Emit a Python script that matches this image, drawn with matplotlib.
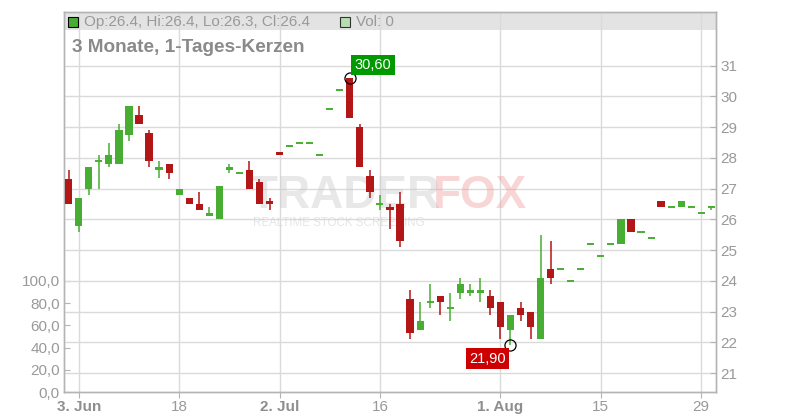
import matplotlib
matplotlib.use('Agg')
import matplotlib.pyplot as plt
from matplotlib.patches import Rectangle

plt.rcParams['font.family'] = ['Liberation Sans', 'DejaVu Sans']

# daily candles (one per trading day with trades)
opens = [27.3, 25.8, 27.0, 27.9, 27.8, 27.8, 28.75, 29.4, 28.8, 27.6,
         27.8, 26.8, 26.7, 26.5, 26.1, 26.0, 27.6, 27.5, 27.6, 27.2,
         26.6, 28.2, 28.4, 28.5, 28.5, 28.1, 29.6, 30.2, 30.6, 29.0,
         27.4, 26.5, 26.4, 26.5, 23.4, 22.4, 23.3, 23.5, 23.1, 23.6,
         23.6, 23.6, 23.5, 23.3, 22.4, 23.1, 23.0, 22.1, 24.4, 24.4,
         24.0, 24.4, 25.2, 24.8, 25.2, 25.2, 26.0, 25.6, 25.4, 26.6,
         26.4, 26.4, 26.4, 26.2, 26.4]
highs = [27.6, 26.7, 27.7, 28.1, 28.5, 29.1, 29.7, 29.7, 28.9, 27.9,
         27.8, 27.0, 26.7, 26.9, 26.4, 27.1, 27.8, 27.5, 27.9, 27.3,
         26.7, 28.2, 28.4, 28.5, 28.5, 28.1, 29.6, 30.2, 30.6, 29.1,
         27.6, 26.8, 26.5, 26.9, 23.7, 23.3, 23.9, 23.5, 23.6, 24.1,
         23.9, 24.1, 23.7, 23.3, 22.9, 23.3, 23.0, 25.5, 25.3, 24.4,
         24.0, 24.4, 25.2, 24.8, 25.2, 26.0, 26.0, 25.6, 25.4, 26.6,
         26.4, 26.6, 26.4, 26.2, 26.4]
lows = [26.5, 25.6, 26.8, 27.0, 27.7, 27.8, 28.55, 29.1, 27.7, 27.35,
        27.3, 26.8, 26.5, 26.3, 26.1, 26.0, 27.5, 27.5, 27.0, 26.5,
        26.3, 28.1, 28.4, 28.5, 28.5, 28.1, 29.6, 30.2, 29.3, 27.7,
        26.7, 26.3, 25.7, 25.1, 22.1, 22.4, 23.1, 22.9, 22.7, 23.4,
        23.5, 23.3, 22.9, 22.1, 21.9, 22.7, 22.1, 22.1, 23.9, 24.4,
        24.0, 24.4, 25.2, 24.8, 25.2, 25.2, 25.6, 25.6, 25.4, 26.4,
        26.4, 26.4, 26.4, 26.2, 26.3]
closes = [26.5, 26.7, 27.7, 27.9, 28.1, 28.9, 29.7, 29.1, 27.9, 27.7,
          27.5, 27.0, 26.5, 26.3, 26.2, 27.1, 27.7, 27.5, 27.0, 26.5,
          26.5, 28.1, 28.4, 28.5, 28.5, 28.1, 29.6, 30.2, 29.3, 27.7,
          26.9, 26.5, 26.3, 25.3, 22.3, 22.7, 23.3, 23.3, 23.1, 23.9,
          23.7, 23.7, 23.1, 22.5, 22.9, 22.9, 22.5, 24.1, 24.1, 24.4,
          24.0, 24.4, 25.2, 24.8, 25.2, 26.0, 25.6, 25.6, 25.4, 26.4,
          26.4, 26.6, 26.4, 26.2, 26.4]
volumes = [0] * len(opens)

date_ticks = [1, 11, 21, 31, 43, 53, 63]
date_labels = ['3. Jun', '18', '2. Jul', '16', '1. Aug', '15', '29']
month_start = [True, False, True, False, True, False, False]
price_ticks = [21, 22, 23, 24, 25, 26, 27, 28, 29, 30, 31]
vol_ticks = [0, 20, 40, 60, 80, 100]

high_idx, high_val = 28, 30.60
low_idx, low_val = 44, 21.90

GREEN = '#48ad33'
RED = '#b31616'
GREY = '#999999'
LINE = '#b4b4b4'
GRID = '#dadada'

W, H = 800, 420
fig = plt.figure(figsize=(8, 4.2), dpi=100)
ax = fig.add_axes([64 / W, 28 / H, 652 / W, 380 / H])  # volume axis (left)
axp = ax.twinx()  # price axis (right)

# header band
ax.add_patch(Rectangle((0, (392 - 30) / 380), 1, 18 / 380, transform=ax.transAxes,
                       facecolor='#e3e3e3', edgecolor='none', zorder=0))

ax.bar(range(len(volumes)), volumes, width=0.72, color='#b5dfb0')

# watermark
axp.text(250 / W, 1 - 208 / H, 'TRADER', transform=fig.transFigure, fontsize=33,
         fontweight='bold', color='#cccccc', alpha=0.45, va='baseline', ha='left', zorder=1)
axp.text(433 / W, 1 - 208 / H, 'FOX', transform=fig.transFigure, fontsize=33,
         fontweight='bold', color='#f29a9a', alpha=0.4, va='baseline', ha='left', zorder=1)
axp.text(253 / W, 1 - 226 / H, 'REALTIME STOCK SCREENING', transform=fig.transFigure,
         fontsize=8.3, color='#cccccc', alpha=0.5, va='baseline', ha='left', zorder=1)

for i in range(len(opens)):
    o, h, l, c = opens[i], highs[i], lows[i], closes[i]
    color = GREEN if c >= o else RED
    if h > l:
        axp.vlines(i, l, h, color=color, lw=1.1, zorder=3)
    if c == o:
        axp.hlines(o, i - 0.35, i + 0.35, color=color, lw=1.4, zorder=3)
    else:
        axp.bar(i, abs(c - o), bottom=min(o, c), width=0.72, color=color,
                linewidth=0, zorder=3)

# high / low markers
axp.plot(high_idx, high_val, 'o', ms=8, mfc='none', mec='black', mew=0.9, zorder=5)
axp.plot(low_idx, low_val, 'o', ms=8, mfc='none', mec='black', mew=0.9, zorder=5)
axp.annotate(f'{high_val:.2f}'.replace('.', ','), xy=(high_idx, high_val),
             xytext=(3.5, 4.5), textcoords='offset points', ha='left', va='bottom',
             color='white', fontsize=10.5, zorder=6,
             bbox=dict(boxstyle='square,pad=0.22', fc='#009900', ec='none'))
axp.annotate(f'{low_val:.2f}'.replace('.', ','), xy=(low_idx, low_val),
             xytext=(-3.5, -4.5), textcoords='offset points', ha='right', va='top',
             color='white', fontsize=10.5, zorder=6,
             bbox=dict(boxstyle='square,pad=0.22', fc='#cc0000', ec='none'))

ax.set_xlim(-0.47, 64.47)
ax.set_ylim(0, 342.3)
axp.set_ylim(20.382, 32.7475)

ax.set_xticks(date_ticks)
ax.set_xticklabels(date_labels)
for lbl, bold in zip(ax.get_xticklabels(), month_start):
    lbl.set_fontweight('bold' if bold else 'normal')
    lbl.set_color('#8e8e8e' if bold else GREY)

ax.set_yticks(vol_ticks)
ax.set_yticklabels([f'{v:.1f}'.replace('.', ',') for v in vol_ticks])
axp.set_yticks(price_ticks)
axp.set_yticklabels([str(p) for p in price_ticks])

ax.set_axisbelow(True)
axp.set_axisbelow(True)
ax.grid(axis='x', color=GRID, lw=1)
axp.grid(axis='y', color=GRID, lw=1)

ax.tick_params(axis='x', direction='out', length=4, color=LINE, labelsize=11, pad=2)
ax.tick_params(axis='y', direction='in', length=4, color=LINE, labelcolor=GREY,
               labelsize=11, pad=3)
axp.tick_params(axis='y', direction='in', length=4, color=LINE, labelcolor=GREY,
                labelsize=11, pad=3)
for a in (ax, axp):
    for s in a.spines.values():
        s.set_color(LINE)
        s.set_linewidth(1)

# header texts
fig.add_artist(Rectangle((68 / W, 1 - 27 / H), 10 / W, 10 / H, transform=fig.transFigure,
                         facecolor=GREEN, edgecolor='black', lw=0.8))
fig.text(84 / W, 1 - 22 / H, 'Op:26.4, Hi:26.4, Lo:26.3, Cl:26.4', color=GREY,
         fontsize=11, va='center', ha='left')
fig.add_artist(Rectangle((340 / W, 1 - 27 / H), 10 / W, 10 / H, transform=fig.transFigure,
                         facecolor='#b5dfb0', edgecolor='#333333', lw=0.8))
fig.text(356 / W, 1 - 22 / H, 'Vol: 0', color=GREY, fontsize=11, va='center', ha='left')
fig.text(72 / W, 1 - 47 / H, '3 Monate, 1-Tages-Kerzen', color='#8a8a8a',
         fontsize=13.7, fontweight='bold', va='center', ha='left')

fig.savefig('out.png', dpi=100)
